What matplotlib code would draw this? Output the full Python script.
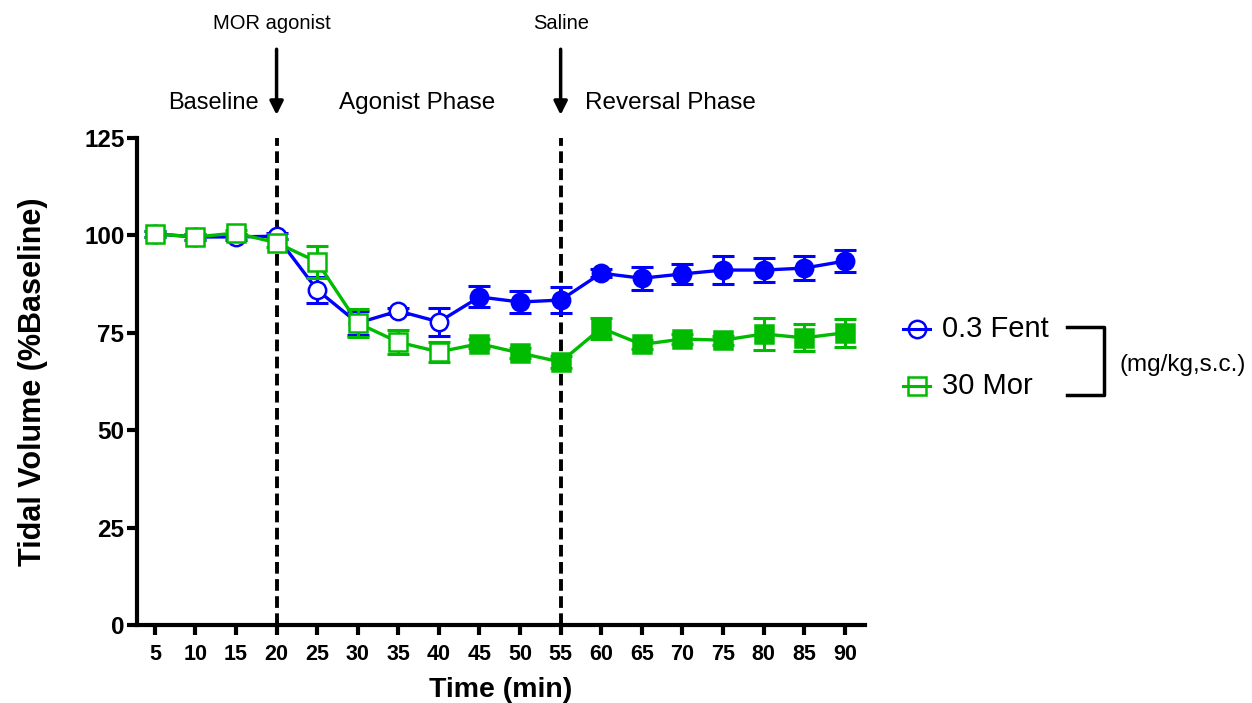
import numpy as np
import matplotlib.pyplot as plt
from matplotlib.lines import Line2D

plt.rcParams['font.family'] = ['Liberation Sans', 'DejaVu Sans']

# Tidal volume (% of baseline) after MOR agonist, then saline
time = [5, 10, 15, 20, 25, 30, 35, 40, 45, 50, 55, 60, 65, 70, 75, 80, 85, 90]
fent_mean = [100.4, 99.6, 99.6, 99.8, 86.0, 77.5, 80.6, 77.8, 84.2, 82.9, 83.4,
             90.3, 89.0, 90.1, 91.1, 91.1, 91.6, 93.4]
fent_sem = [0.8, 0.8, 0.8, 0.8, 3.4, 3.0, 0.8, 3.5, 2.7, 2.8, 3.3,
            1.0, 3.0, 2.6, 3.5, 3.0, 3.0, 2.8]
mor_mean = [100.4, 99.6, 100.6, 98.1, 93.2, 77.5, 72.6, 70.1, 72.2, 69.8, 67.5,
            76.2, 72.0, 73.4, 73.1, 74.7, 73.7, 75.0]
mor_sem = [0.8, 0.8, 0.8, 1.0, 4.1, 3.7, 3.0, 2.6, 1.2, 1.2, 1.5,
           2.7, 1.2, 1.2, 1.2, 4.1, 3.5, 3.6]

blue = '#0000ff'
green = '#00bb00'
n_open = 8  # points up to 40 min are drawn hollow

fig = plt.figure(figsize=(12.52, 7.03), dpi=100)
ax = fig.add_axes([0.1094, 0.111, 0.5815, 0.6927])

for x in (20, 55):
    ax.axvline(x, color='k', lw=2.8, ls=(0, (3.0, 1.4)), zorder=1)

def draw_series(mean, sem, color, marker):
    ax.plot(time, mean, color=color, lw=2.4, zorder=2)
    ax.errorbar(time, mean, yerr=sem, fmt='none', ecolor=color,
                elinewidth=2.2, capsize=8, capthick=2.2, zorder=2)
    ax.plot(time[:n_open], mean[:n_open], ls='none', marker=marker, ms=12.5,
            mfc='white', mec=color, mew=1.8, zorder=3)
    ax.plot(time[n_open:], mean[n_open:], ls='none', marker=marker, ms=12.5,
            mfc=color, mec=color, mew=1.8, zorder=3)

draw_series(fent_mean, fent_sem, blue, 'o')
draw_series(mor_mean, mor_sem, green, 's')

ax.set_xlim(2.8, 92.5)
ax.set_ylim(0, 125)
ax.set_xticks(time)
ax.set_yticks([0, 25, 50, 75, 100, 125])
for s in ('top', 'right'):
    ax.spines[s].set_visible(False)
for s in ('left', 'bottom'):
    ax.spines[s].set_linewidth(3)
ax.tick_params(width=3, length=7)
ax.tick_params(axis='x', labelsize=15.5, pad=7)
ax.tick_params(axis='y', labelsize=17.5, pad=2)
for lab in ax.get_xticklabels() + ax.get_yticklabels():
    lab.set_fontweight('bold')
ax.set_xlabel('Time (min)', fontsize=20.5, fontweight='bold', labelpad=8)
ax.set_ylabel('Tidal Volume (%Baseline)', fontsize=22, fontweight='bold', labelpad=26)

# phase annotations above the axes
for x in (20, 55):
    ax.annotate('', xy=(x, 130.2), xytext=(x, 148.5), annotation_clip=False,
                arrowprops=dict(arrowstyle='-|>', color='k', lw=2.5, mutation_scale=20))
ax.text(19.4, 154.5, 'MOR agonist', ha='center', va='center', fontsize=14.5, clip_on=False)
ax.text(55, 154.5, 'Saline', ha='center', va='center', fontsize=14.5, clip_on=False)
ax.text(12.2, 134, 'Baseline', ha='center', va='center', fontsize=17, clip_on=False)
ax.text(37.3, 134, 'Agonist Phase', ha='center', va='center', fontsize=17.5, clip_on=False)
ax.text(68.5, 134, 'Reversal Phase', ha='center', va='center', fontsize=17.5, clip_on=False)

# legend drawn by hand: short line through a hollow marker, then label
def fx(px):
    return px / 1252

def fy(py):
    return 1 - py / 703

for py, color, marker, label in ((329, blue, 'o', '0.3 Fent'), (386, green, 's', '30 Mor')):
    fig.add_artist(Line2D([fx(903), fx(930)], [fy(py), fy(py)], color=color, lw=2.2))
    fig.add_artist(Line2D([fx(916.5)], [fy(py)], ls='none', marker=marker, ms=12.5,
                          mfc='none', mec=color, mew=1.8))
    fig.text(fx(942), fy(py), label, ha='left', va='center', fontsize=21)

# bracket grouping the doses
fig.add_artist(Line2D([fx(1067), fx(1104), fx(1104), fx(1067)],
                      [fy(327), fy(327), fy(395), fy(395)], color='k', lw=2.5))
fig.text(fx(1183), fy(365), '(mg/kg,s.c.)', ha='center', va='center', fontsize=17.5)

fig.savefig('out.png', dpi=100)
